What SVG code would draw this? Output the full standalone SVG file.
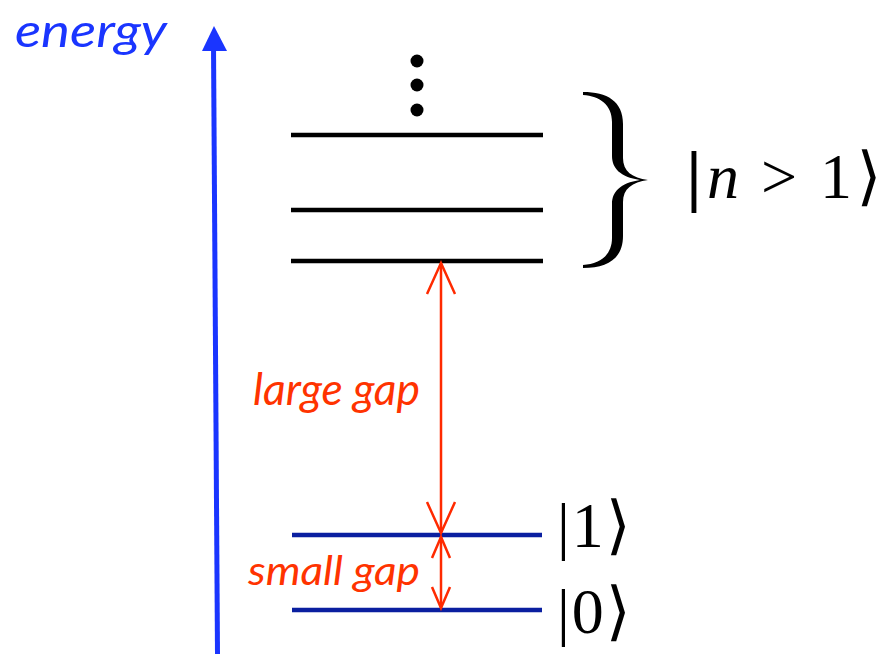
<svg xmlns="http://www.w3.org/2000/svg" width="883" height="654" viewBox="0 0 883 654">
<style>
.lvl{stroke:#000;stroke-width:4.5;fill:none}
.lvlb{stroke:#0a1fa0;stroke-width:4.5;fill:none}
.red{stroke:#ff2a00;stroke-width:2.5;fill:none}
.gap{font-family:Lato,"Open Sans",sans-serif;font-style:italic;fill:#ff3300}
.ket{font-family:"Liberation Serif","DejaVu Serif",serif;fill:#000;text-anchor:middle;font-size:64px}
.ks{font-family:"Liberation Serif","DejaVu Serif",serif;fill:#000;font-size:64px}
.bar{font-family:"DejaVu Serif",serif;font-size:62px}
</style>
<rect width="883" height="654" fill="#fff"/>
<g id="axis">
<line x1="217.5" y1="654" x2="213.5" y2="45" stroke="#1a35ff" stroke-width="5"/>
<polygon points="214,26 202,51 227,51" fill="#1a35ff"/>
<text x="15" y="47" font-family="Lato,'Open Sans',sans-serif" font-style="italic" font-size="46" fill="#1a35ff" textLength="152" lengthAdjust="spacingAndGlyphs">energy</text>
</g>
<g id="dots" fill="#000">
<circle cx="417" cy="61" r="6.5"/>
<circle cx="417" cy="85" r="6.5"/>
<circle cx="417" cy="110" r="6.5"/>
</g>
<g id="level-high-3"><line class="lvl" x1="291" y1="135" x2="543" y2="135"/></g>
<g id="level-high-2"><line class="lvl" x1="291" y1="210" x2="543" y2="210"/></g>
<g id="level-high-1"><line class="lvl" x1="291" y1="261" x2="543" y2="261"/></g>
<g id="level-1"><line class="lvlb" x1="292" y1="535" x2="542" y2="535"/>
<text class="ks" x="557" y="547" letter-spacing="2">|1⟩</text></g>
<g id="level-0"><line class="lvlb" x1="292" y1="610" x2="542" y2="610"/>
<text class="ks" x="557" y="633" letter-spacing="2">|0⟩</text></g>
<g id="brace">
<path d="M583 92 C607 92 623 101 623 124 L623 158 C623 171 632 178 648 180 C632 182 623 189 623 202 L623 236 C623 259 607 268 583 268 L583 265 C600 264 612 255 612 238 L612 204 C612 192 620 183 640 180 C620 177 612 168 612 156 L612 122 C612 105 600 96 583 95 Z" fill="#000"/>
<text class="ket" y="198"><tspan class="bar" x="694">|</tspan><tspan x="723" font-style="italic">n</tspan><tspan x="779">&gt;</tspan><tspan x="836">1</tspan><tspan x="869">⟩</tspan></text>
</g>
<g id="connectors">
<line class="red" x1="441" y1="263" x2="441" y2="533"/>
<polyline class="red" points="427,294 441,263 455,294"/>
<polyline class="red" points="427,502 441,533 455,502"/>
<line class="red" x1="441" y1="537" x2="441" y2="608"/>
<polyline class="red" points="432,558 441,537 450,558"/>
<polyline class="red" points="432,587 441,608 450,587"/>
</g>
<g id="labels">
<text class="gap" x="253" y="405" font-size="44" textLength="167" lengthAdjust="spacingAndGlyphs">large gap</text>
<text class="gap" x="248" y="585" font-size="40" textLength="172" lengthAdjust="spacingAndGlyphs">small gap</text>
</g>
</svg>
